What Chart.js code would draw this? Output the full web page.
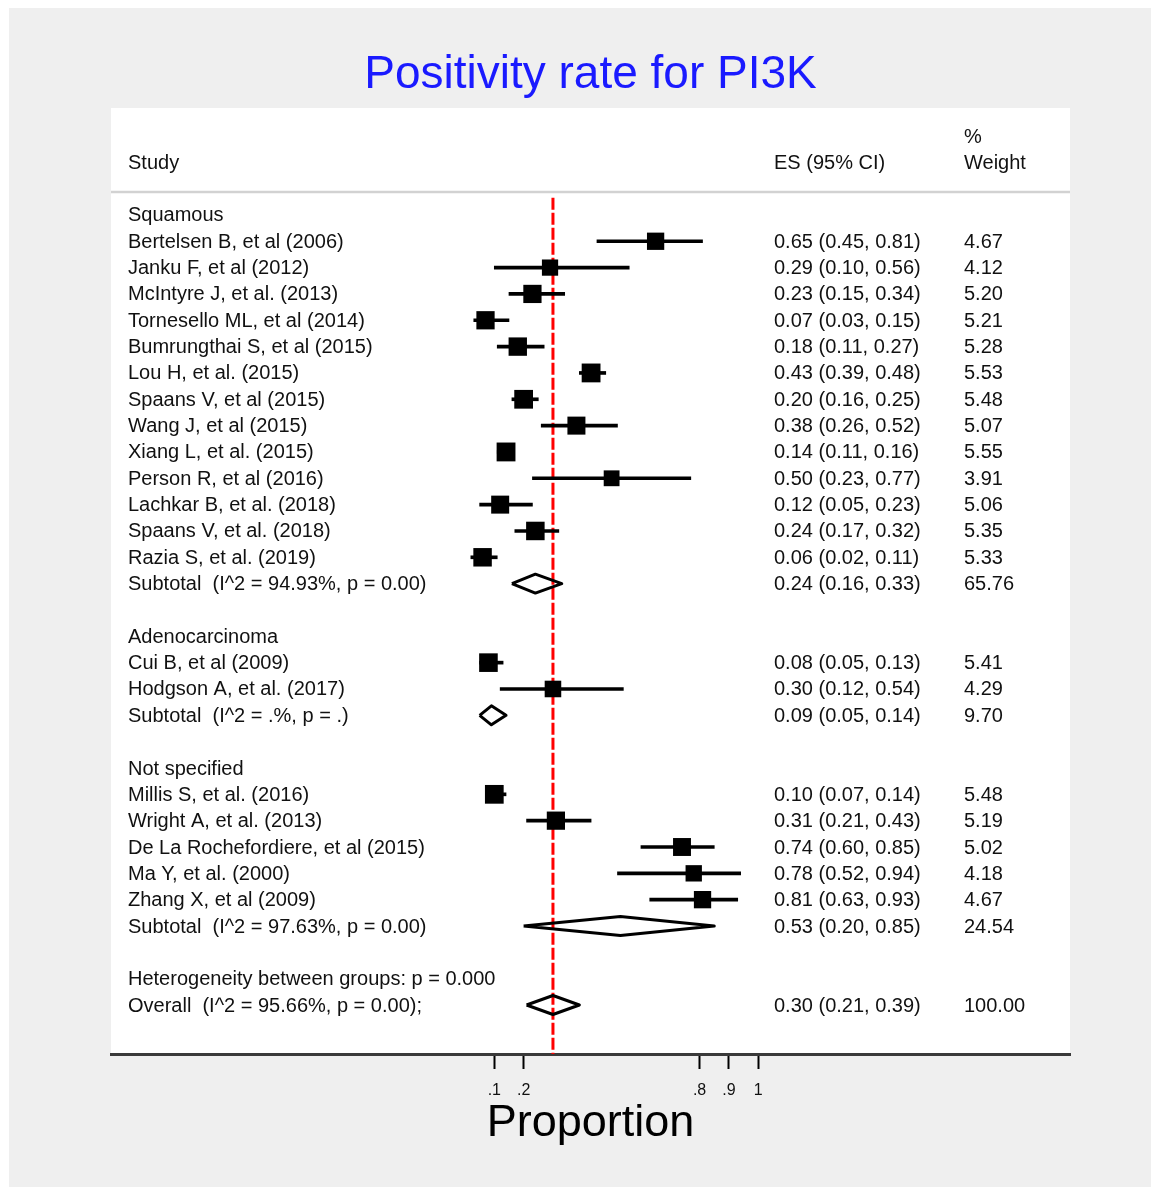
<!DOCTYPE html>
<html>
<head>
<meta charset="utf-8">
<script src="https://cdn.jsdelivr.net/npm/chart.js@4/dist/chart.umd.min.js"></script>
<style>
  html, body { margin: 0; padding: 0; background: #fff; }
  #wrap { width: 1151px; height: 1187px; }
</style>
</head>
<body>
<div id="wrap"><canvas id="grafica" width="1151" height="1187"></canvas></div>
<script>
// study data, grouped by histology
const grupos = ["Squamous", "Adenocarcinoma", "Not specified"];
const grupoDe = [0,0,0,0,0,0,0,0,0,0,0,0,0, 1,1, 2,2,2,2,2];

const estudios = [
  "Bertelsen B, et al (2006)", "Janku F, et al (2012)", "McIntyre J, et al. (2013)",
  "Tornesello ML, et al (2014)", "Bumrungthai S, et al (2015)", "Lou H, et al. (2015)",
  "Spaans V, et al (2015)", "Wang J, et al (2015)", "Xiang L, et al. (2015)",
  "Person R, et al (2016)", "Lachkar B, et al. (2018)", "Spaans V, et al. (2018)",
  "Razia S, et al. (2019)",
  "Cui B, et al (2009)", "Hodgson A, et al. (2017)",
  "Millis S, et al. (2016)", "Wright A, et al. (2013)", "De La Rochefordiere, et al (2015)",
  "Ma Y, et al. (2000)", "Zhang X, et al (2009)"
];
const es   = [0.65,0.29,0.23,0.07,0.18,0.43,0.20,0.38,0.14,0.50,0.12,0.24,0.06, 0.08,0.30, 0.10,0.31,0.74,0.78,0.81];
const bajo = [0.45,0.10,0.15,0.03,0.11,0.39,0.16,0.26,0.11,0.23,0.05,0.17,0.02, 0.05,0.12, 0.07,0.21,0.60,0.52,0.63];
const alto = [0.81,0.56,0.34,0.15,0.27,0.48,0.25,0.52,0.16,0.77,0.23,0.32,0.11, 0.13,0.54, 0.14,0.43,0.85,0.94,0.93];
const peso = [4.67,4.12,5.20,5.21,5.28,5.53,5.48,5.07,5.55,3.91,5.06,5.35,5.33, 5.41,4.29, 5.48,5.19,5.02,4.18,4.67];

// pooled estimates: one per group, then overall
const subEtiq = ["Subtotal  (I^2 = 94.93%, p = 0.00)", "Subtotal  (I^2 = .%, p = .)", "Subtotal  (I^2 = 97.63%, p = 0.00)"];
const subEs   = [0.24, 0.09, 0.53];
const subBajo = [0.16, 0.05, 0.20];
const subAlto = [0.33, 0.14, 0.85];
const subPeso = [65.76, 9.70, 24.54];

const hetEtiq = "Heterogeneity between groups: p = 0.000";
const totalEtiq = "Overall  (I^2 = 95.66%, p = 0.00);";
const totalEs = 0.30, totalBajo = 0.21, totalAlto = 0.39, totalPeso = 100.00;

const xTicks = [0.1, 0.2, 0.8, 0.9, 1];
const xTickLabels = [".1", ".2", ".8", ".9", "1"];

const fmt = v => v.toFixed(2);
const ciTxt = (e, l, h) => `${fmt(e)} (${fmt(l)}, ${fmt(h)})`;

// row layout: header, studies, subtotal, blank line
const filas = [];
let r = 0;
grupos.forEach((g, gi) => {
  filas.push({ fila: r++, texto: g });
  estudios.forEach((s, i) => {
    if (grupoDe[i] !== gi) return;
    filas.push({ fila: r++, texto: s, est: i, ci: ciTxt(es[i], bajo[i], alto[i]), w: peso[i].toFixed(2) });
  });
  filas.push({ fila: r++, texto: subEtiq[gi], sub: gi, ci: ciTxt(subEs[gi], subBajo[gi], subAlto[gi]), w: subPeso[gi].toFixed(2) });
  r++;
});
filas.push({ fila: r++, texto: hetEtiq });
filas.push({ fila: r, texto: totalEtiq, ci: ciTxt(totalEs, totalBajo, totalAlto), w: totalPeso.toFixed(2) });
const filaTotal = r;

const filaEst = [];
const filaSub = [];
filas.forEach(f => {
  if (f.est !== undefined) filaEst[f.est] = f.fila;
  if (f.sub !== undefined) filaSub[f.sub] = f.fila;
});

const yMin = -4.06, yMax = filaTotal + 1.86;
const medioRombo = 0.36;

function rombo(e, l, h, y) {
  return [{x: l, y}, {x: e, y: y - medioRombo}, {x: h, y}, {x: e, y: y + medioRombo}, {x: l, y}];
}

const rombos = subEs.map((e, i) => rombo(e, subBajo[i], subAlto[i], filaSub[i]));
rombos.push(rombo(totalEs, totalBajo, totalAlto, filaTotal));

const FUENTE = '"Liberation Sans", Arial, sans-serif';

const fondo = {
  id: "fondo",
  beforeDraw(c) {
    const ctx = c.ctx, a = c.chartArea;
    ctx.save();
    ctx.fillStyle = "#ffffff";
    ctx.fillRect(0, 0, c.width, c.height);
    ctx.fillStyle = "#efefef";
    ctx.fillRect(9, 8, c.width - 9, c.height - 8);
    ctx.fillStyle = "#ffffff";
    ctx.fillRect(a.left, a.top, a.right - a.left, a.bottom - a.top);
    ctx.strokeStyle = "#d2d2d2";
    ctx.lineWidth = 2.5;
    ctx.beginPath();
    ctx.moveTo(a.left, 192);
    ctx.lineTo(a.right, 192);
    ctx.stroke();
    ctx.restore();
  }
};

const textos = {
  id: "textos",
  afterDraw(c) {
    const ctx = c.ctx, y = c.scales.y;
    ctx.save();
    ctx.font = "20px " + FUENTE;
    ctx.fillStyle = "#111";
    ctx.textBaseline = "middle";
    ctx.fillText("Study", 128, 163);
    ctx.fillText("ES (95% CI)", 774, 163);
    ctx.fillText("%", 964, 137);
    ctx.fillText("Weight", 964, 163);
    filas.forEach(f => {
      const py = y.getPixelForValue(f.fila) + 1;
      ctx.fillText(f.texto, 128, py);
      if (f.ci) ctx.fillText(f.ci, 774, py);
      if (f.w) ctx.fillText(f.w, 964, py);
    });
    ctx.restore();
  }
};

new Chart(document.getElementById("grafica"), {
  type: "scatter",
  data: {
    datasets: [
      {
        type: "scatter",
        data: es.map((e, i) => ({x: e, y: filaEst[i]})),
        pointStyle: "rect",
        pointRadius: peso.map(w => 8 * Math.sqrt(w) / 2 / Math.SQRT1_2),
        pointHoverRadius: peso.map(w => 8 * Math.sqrt(w) / 2 / Math.SQRT1_2),
        backgroundColor: "#000",
        borderWidth: 0
      },
      ...rombos.map(d => ({
        type: "line",
        data: d,
        borderColor: "#000",
        borderWidth: 3,
        borderJoinStyle: "round",
        pointRadius: 0,
        fill: false,
        tension: 0
      })),
      {
        type: "bar",
        indexAxis: "y",
        data: es.map((e, i) => ({x: [bajo[i], alto[i]], y: filaEst[i]})),
        backgroundColor: "#000",
        barThickness: 3,
        grouped: false
      },
      {
        type: "line",
        data: [{x: totalEs, y: -0.65}, {x: totalEs, y: yMax}],
        borderColor: "#ff0000",
        borderWidth: 3,
        borderDash: [12, 3],
        pointRadius: 0
      }
    ]
  },
  options: {
    responsive: false,
    animation: false,
    events: [],
    layout: { padding: { left: 111, right: 81, top: 0, bottom: 0 } },
    plugins: {
      legend: { display: false },
      tooltip: { enabled: false },
      title: {
        display: true,
        text: "Positivity rate for PI3K",
        color: "#1a1aff",
        font: { family: FUENTE, size: 46, weight: "normal", lineHeight: 1.2 },
        padding: { top: 48, bottom: 4.8 }
      }
    },
    scales: {
      x: {
        type: "linear",
        min: -1.207,
        max: 2.063,
        offset: false,
        afterBuildTicks: s => { s.ticks = xTicks.map(v => ({ value: v })); },
        afterFit: s => { s.height = 133; },
        ticks: {
          autoSkip: false,
          maxRotation: 0,
          color: "#111",
          padding: 12,
          font: { family: FUENTE, size: 16 },
          callback: v => xTickLabels[xTicks.indexOf(v)]
        },
        grid: {
          offset: false,
          drawOnChartArea: false,
          drawTicks: true,
          tickLength: 15,
          tickWidth: 2,
          tickColor: "#000"
        },
        border: { display: true, color: "#3a3a3a", width: 3 },
        title: {
          display: true,
          text: "Proportion",
          color: "#000",
          font: { family: FUENTE, size: 45, lineHeight: 1.2 },
          padding: { top: 0, bottom: 36 }
        }
      },
      y: {
        type: "linear",
        display: false,
        reverse: true,
        offset: false,
        grid: { offset: false },
        min: yMin,
        max: yMax
      }
    }
  },
  plugins: [fondo, textos]
});
</script>
</body>
</html>
